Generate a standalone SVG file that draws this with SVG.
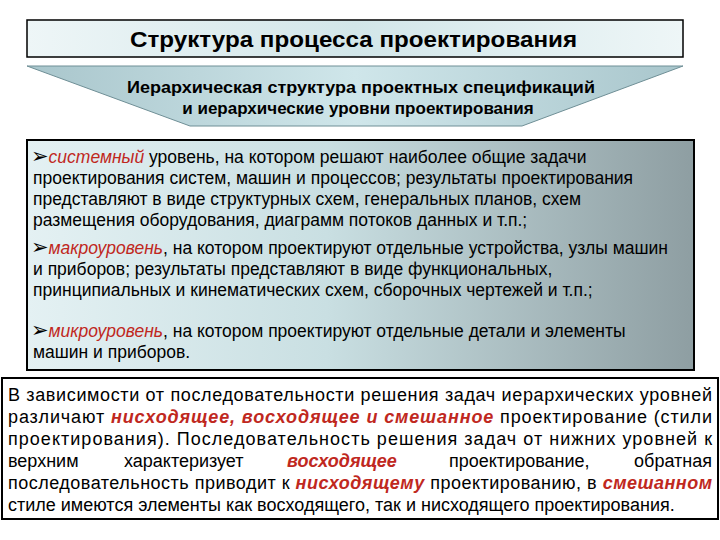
<svg xmlns="http://www.w3.org/2000/svg" width="720" height="540" viewBox="0 0 720 540">
<defs>
<linearGradient id="g1" x1="0" y1="0" x2="1" y2="0"><stop offset="0" stop-color="#eef6f7"/><stop offset="0.5" stop-color="#d2e6e9"/><stop offset="1" stop-color="#eef6f7"/></linearGradient>
<linearGradient id="g2" x1="0" y1="0" x2="1" y2="0"><stop offset="0" stop-color="#a9c6cc"/><stop offset="0.5" stop-color="#cfe6ea"/><stop offset="1" stop-color="#a9c6cc"/></linearGradient>
<linearGradient id="g3" x1="0" y1="0" x2="1" y2="0"><stop offset="0" stop-color="#e4f1f3"/><stop offset="0.45" stop-color="#c9dfe2"/><stop offset="1" stop-color="#8e9ea2"/></linearGradient>
</defs>
<style>
text{font-family:"Liberation Sans",Arial,sans-serif;fill:#000}
.b{font-weight:bold}
.r{fill:#c0281e;font-style:italic}
.rb{fill:#c0281e;font-style:italic;font-weight:bold}
.a{font-family:"DejaVu Sans",sans-serif;font-size:21px;font-weight:bold}
</style>
<rect width="720" height="540" fill="#fff"/>
<g id="title">
<rect x="27" y="20" width="656" height="37" fill="url(#g1)" stroke="#000" stroke-width="1.5"/>
<text x="130" y="47" class="b" font-size="22" textLength="447" lengthAdjust="spacingAndGlyphs">Структура процесса проектирования</text>
</g>
<g id="funnel">
<polygon points="27,66 683,66 522,126 190,126" fill="url(#g2)" stroke="#6f8f96" stroke-width="1"/>
<text x="127" y="93" class="b" font-size="17" textLength="468" lengthAdjust="spacingAndGlyphs">Иерархическая структура проектных спецификаций</text>
<text x="358" y="114" class="b" font-size="17" text-anchor="middle">и иерархические уровни проектирования</text>
</g>
<g id="levels">
<rect x="27" y="140" width="667" height="230" fill="url(#g3)" stroke="#000" stroke-width="2"/>
<text x="31" y="163" font-size="17.5"><tspan class="a">➢</tspan><tspan class="r">системный</tspan> уровень, на котором решают наиболее общие задачи</text>
<text x="33" y="184" font-size="17.5">проектирования систем, машин и процессов; результаты проектирования</text>
<text x="33" y="205" font-size="17.5">представляют в виде структурных схем, генеральных планов, схем</text>
<text x="33" y="226" font-size="17.5">размещения оборудования, диаграмм потоков данных и т.п.;</text>
<text x="31" y="254" font-size="17.5"><tspan class="a">➢</tspan><tspan class="r">макроуровень</tspan>, на котором проектируют отдельные устройства, узлы машин</text>
<text x="33" y="275" font-size="17.5">и приборов; результаты представляют в виде функциональных,</text>
<text x="33" y="296" font-size="17.5">принципиальных и кинематических схем, сборочных чертежей и т.п.;</text>
<text x="31" y="337" font-size="17.5"><tspan class="a">➢</tspan><tspan class="r">микроуровень</tspan>, на котором проектируют отдельные детали и элементы</text>
<text x="33" y="358" font-size="17.5">машин и приборов.</text>
</g>
<g id="note">
<rect x="2" y="378" width="716" height="141" fill="#fff" stroke="#000" stroke-width="2"/>
<text x="8" y="401" font-size="18" textLength="704" lengthAdjust="spacing">В зависимости от последовательности решения задач иерархических уровней</text>
<text x="8" y="423" font-size="18" textLength="704" lengthAdjust="spacing">различают <tspan class="rb">нисходящее, восходящее и смешанное</tspan> проектирование (стили</text>
<text x="8" y="445" font-size="18" textLength="704" lengthAdjust="spacing">проектирования). Последовательность решения задач от нижних уровней к</text>
<text y="467" font-size="18"><tspan x="8">верхним</tspan><tspan x="124">характеризует</tspan><tspan x="287" class="rb">восходящее</tspan><tspan x="449">проектирование,</tspan><tspan x="712" text-anchor="end">обратная</tspan></text>
<text x="8" y="489" font-size="18" textLength="704" lengthAdjust="spacing">последовательность приводит к <tspan class="rb">нисходящему</tspan> проектированию, в <tspan class="rb">смешанном</tspan></text>
<text x="8" y="511" font-size="18">стиле имеются элементы как восходящего, так и нисходящего проектирования.</text>
</g>
</svg>
